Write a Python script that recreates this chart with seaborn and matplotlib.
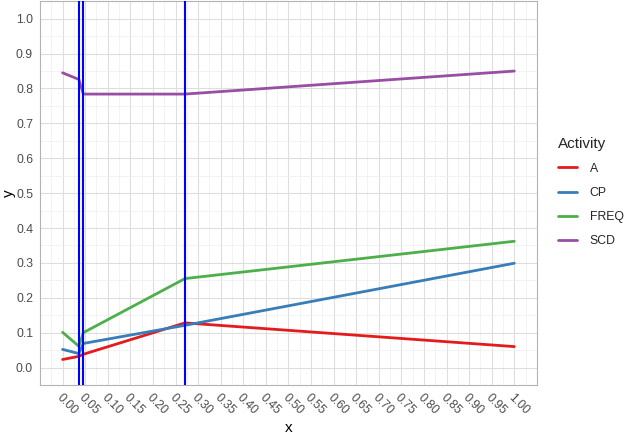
import pandas as pd
import numpy as np
import matplotlib
matplotlib.use("Agg")
import matplotlib.pyplot as plt
import seaborn as sns
from matplotlib.ticker import MultipleLocator

# values
x_vals = [0.0, 0.036, 0.046, 0.271, 1.0]
a_vals = [0.023, 0.032, 0.038, 0.128, 0.060]
cp_vals = [0.052, 0.040, 0.069, 0.121, 0.299]
freq_vals = [0.101, 0.061, 0.100, 0.255, 0.362]
scd_vals = [0.845, 0.826, 0.784, 0.784, 0.850]
activities = ["A", "CP", "FREQ", "SCD"]
vlines = [0.036, 0.046, 0.271]
x_ticks = np.round(np.arange(0, 1.0001, 0.05), 2)
y_ticks = np.round(np.arange(0, 1.0001, 0.1), 1)

series = {"A": a_vals, "CP": cp_vals, "FREQ": freq_vals, "SCD": scd_vals}
df = pd.concat(
    [pd.DataFrame({"x": x_vals, "y": v, "Activity": k}) for k, v in series.items()],
    ignore_index=True,
)

sns.set_style("whitegrid")
plt.rcParams["font.family"] = ["Liberation Sans", "DejaVu Sans"]

fig = plt.figure(figsize=(6.25, 4.34), dpi=100)
ax = fig.add_axes([0.064, 0.113, 0.795, 0.884])

palette = {"A": "#E41A1C", "CP": "#377EB8", "FREQ": "#4DAF4A", "SCD": "#984EA3"}
sns.lineplot(data=df, x="x", y="y", hue="Activity", hue_order=activities,
             palette=palette, linewidth=2, ax=ax, zorder=3)
for v in vlines:
    ax.axvline(v, color="#0000FF", linewidth=1.5, zorder=4)

ax.set_xlim(-0.05, 1.05)
ax.set_ylim(-0.05, 1.05)
ax.set_xticks(x_ticks)
ax.set_xticklabels([f"{t:.2f}" for t in x_ticks], rotation=-45, ha="left",
                   va="top", rotation_mode="anchor")
ax.set_yticks(y_ticks)
ax.set_yticklabels([f"{t:.1f}" for t in y_ticks])
ax.xaxis.set_minor_locator(MultipleLocator(0.025))
ax.yaxis.set_minor_locator(MultipleLocator(0.05))
ax.grid(which="major", color="#DEDEDE", linewidth=0.8)
ax.grid(which="minor", color="#EEEEEE", linewidth=0.5)
ax.set_axisbelow(True)
for s in ax.spines.values():
    s.set_color("#B3B3B3")
    s.set_linewidth(0.8)
ax.tick_params(axis="both", which="major", colors="#B3B3B3", length=2.75,
               width=0.6, labelcolor="#4D4D4D", labelsize=8.8, pad=2.2)
ax.tick_params(axis="both", which="minor", length=0)
ax.set_xlabel("x", fontsize=11, color="black")
ax.set_ylabel("y", fontsize=11, color="black")
ax.xaxis.set_label_coords(0.5, -0.093)
ax.yaxis.set_label_coords(-0.048, 0.5)

leg = ax.legend(title="Activity", loc="center left", bbox_to_anchor=(1.02, 0.503),
                frameon=False, fontsize=8.8, title_fontsize=11, handlelength=1.6,
                handletextpad=1.0, labelspacing=1.0, alignment="left")
for h in leg.get_lines():
    h.set_linewidth(2)

fig.savefig("out.png", dpi=100)
